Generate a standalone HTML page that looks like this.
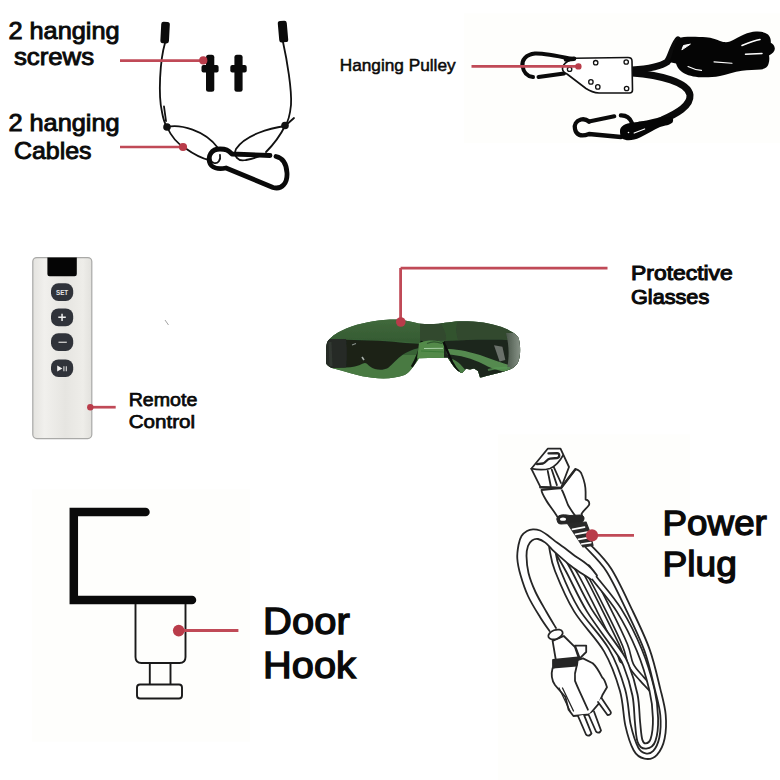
<!DOCTYPE html>
<html><head><meta charset="utf-8">
<style>
html,body{margin:0;padding:0;background:#fff;}
body{width:780px;height:780px;overflow:hidden;position:relative;}
svg{position:absolute;left:0;top:0;}
text{font-family:"Liberation Sans",sans-serif;font-weight:bold;fill:#0a0a0a;}
</style></head><body>
<svg width="780" height="780" viewBox="0 0 780 780">
<defs>
<linearGradient id="rem" x1="0" x2="1" y1="0" y2="0">
<stop offset="0" stop-color="#e4e3df"/><stop offset="0.2" stop-color="#f1f0ed"/><stop offset="0.55" stop-color="#e6e5e1"/><stop offset="0.85" stop-color="#eeede9"/><stop offset="1" stop-color="#e2e1dd"/>
</linearGradient>
</defs>

<!-- faint backgrounds -->
<rect x="32" y="489.5" width="218" height="252" fill="#fefefc"/>
<rect x="464" y="13.5" width="316" height="129.5" fill="#fefefc"/>
<rect x="498" y="434.5" width="192" height="345.5" fill="#fefefc"/>

<!-- ============ TEXT ============ -->
<text x="8.4" y="38.75" font-size="23.6" textLength="111.2" lengthAdjust="spacingAndGlyphs" style="font-weight:normal;stroke:#0a0a0a;stroke-width:0.9">2 hanging</text>
<text x="13.9" y="65.35" font-size="23.6" textLength="80.2" lengthAdjust="spacingAndGlyphs" style="font-weight:normal;stroke:#0a0a0a;stroke-width:0.9">screws</text>
<text x="8.4" y="131.25" font-size="23.6" textLength="111.2" lengthAdjust="spacingAndGlyphs" style="font-weight:normal;stroke:#0a0a0a;stroke-width:0.9">2 hanging</text>
<text x="13.9" y="158.75" font-size="23.6" textLength="77.7" lengthAdjust="spacingAndGlyphs" style="font-weight:normal;stroke:#0a0a0a;stroke-width:0.9">Cables</text>
<text x="339.7" y="71.20" font-size="16.6" textLength="115.9" lengthAdjust="spacingAndGlyphs" style="font-weight:normal;stroke:#0a0a0a;stroke-width:0.5">Hanging Pulley</text>
<text x="631.0" y="279.50" font-size="21.0" textLength="101.8" lengthAdjust="spacingAndGlyphs" style="font-weight:normal;stroke:#0a0a0a;stroke-width:1.05">Protective</text>
<text x="631.0" y="303.70" font-size="21.0" textLength="78.2" lengthAdjust="spacingAndGlyphs" style="font-weight:normal;stroke:#0a0a0a;stroke-width:1.05">Glasses</text>
<text x="128.7" y="406.15" font-size="18.9" textLength="68.7" lengthAdjust="spacingAndGlyphs" style="font-weight:normal;stroke:#0a0a0a;stroke-width:0.75">Remote</text>
<text x="128.7" y="428.25" font-size="18.9" textLength="66.4" lengthAdjust="spacingAndGlyphs" style="font-weight:normal;stroke:#0a0a0a;stroke-width:0.75">Control</text>
<text x="263.1" y="634.02" font-size="37.2" textLength="86.6" lengthAdjust="spacingAndGlyphs" style="font-weight:normal;stroke:#0a0a0a;stroke-width:1.35">Door</text>
<text x="263.1" y="678.12" font-size="37.2" textLength="92.8" lengthAdjust="spacingAndGlyphs" style="font-weight:normal;stroke:#0a0a0a;stroke-width:1.35">Hook</text>
<text x="662.5" y="535.05" font-size="35.0" textLength="104.4" lengthAdjust="spacingAndGlyphs" style="font-weight:normal;stroke:#0a0a0a;stroke-width:1.3">Power</text>
<text x="662.5" y="575.85" font-size="35.0" textLength="74.4" lengthAdjust="spacingAndGlyphs" style="font-weight:normal;stroke:#0a0a0a;stroke-width:1.3">Plug</text>

<!-- ============ CABLES (top-left) ============ -->
<g fill="none" stroke="#111" stroke-width="1.8" stroke-linecap="round">
<path d="M165,43 C160,60 158,95 162,112 C163,118 165,124 167,127"/>
<path d="M164,106.5 L166,121"/>
<path d="M213,152 C209,156 210,162 214,163 C218,164 221,160 220,155"/>
<path d="M283,42 C287,60 292,90 291,105 C290,115 288,122 285,126"/>
<path d="M285,126 L294,118"/>
<path d="M167,127 C180,124 205,130 218,148"/>
<path d="M167,127 C172,138 178,144 185,148 C192,153 200,158 209,160"/>
<path d="M285,126 C270,128 245,135 236,149 C233,156 238,162 246,160 C252,159 258,157 263,155"/>
<path d="M285,126 C280,136 272,146 266,152"/>
</g>
<circle cx="167" cy="127" r="3.8" fill="#111"/>
<circle cx="285" cy="125.5" r="3.8" fill="#111"/>
<rect x="160.8" y="21.8" width="8.6" height="21.5" rx="2.5" fill="#0a0a0a" transform="rotate(3 165 32.5)"/>
<rect x="278.5" y="20.8" width="9" height="21.5" rx="2.5" fill="#0a0a0a" transform="rotate(-5 283 31.5)"/>
<!-- screws -->
<g fill="#0a0a0a">
<rect x="206" y="54.7" width="8.3" height="37" rx="2.5"/>
<rect x="201.5" y="65" width="17.1" height="7.6" rx="2"/>
<rect x="234.4" y="54.7" width="8.2" height="37" rx="2.5"/>
<rect x="230.3" y="65" width="16.4" height="7.6" rx="2"/>
</g>
<!-- carabiner -->
<path d="M270,155.5 L232,154 C228,150 226,149 220,149 C211,149 208,156 209.5,162 C211,168 218,169.5 226,168 L273,187.5 C282,190 287.5,183 287,173 C286.5,164 283,158 276,156.5" fill="none" stroke="#0a0a0a" stroke-width="4.8" stroke-linecap="round" stroke-linejoin="round"/>

<!-- ============ PULLEY ============ -->
<g fill="none" stroke="#0a0a0a" stroke-linecap="round" stroke-linejoin="round">
<path d="M575,59.5 C565,57.5 545,53 535,53.5 C526,54.5 521.5,60 522.5,66 C523.5,72 527,76.5 533,77" stroke-width="4"/>
<path d="M538.5,77 L564,73.5" stroke-width="4"/>
<path d="M632,70 C645,69 660,67 667,62 C671,58 672,48 678,40" stroke-width="7"/>
<path d="M632,73 C660,75 688,82 690,95 C691,106 676,114 662,120 C654,123 646,124 640,125" stroke-width="7"/>
<!-- bottom carabiner -->
<path d="M589,121.5 L614.3,116.3" stroke-width="4.1"/>
<path d="M620.8,115.4 C626,115.2 630,118 632,123" stroke-width="4.1"/>
<path d="M589,121.5 C586,119 583,119 581,119.5 C576,121 574,125 575,129 C576,135 581,137 589,134 L621,137" stroke-width="4.3"/>

</g>
<path d="M620,131 C620,126 625,123.5 633,122.5 L651,120.5 C658,119 664,117 670,116.8 C673,117 674,120 672.5,122.5 C670,125 665,125.5 660,127 C654,129.5 647,134 640,137.5 C633,140.8 626,141.2 622,138.5 C620.3,136.5 620,133.5 620,131 Z" fill="#050505"/>
<path d="M634.2,133 L644.6,129" stroke="#fff" stroke-width="1.3" stroke-linecap="round"/>
<circle cx="628.5" cy="132.5" r="0.8" fill="#fff"/>
<path d="M562.5,69 C562.5,66 565,63 567.5,61.5 L574,58.3 L628,57.5 Q632,57.5 632,61 L632.5,90 Q632.5,93 629.5,93 L599,93 Q592,92.5 586,88.5 L567,74 C564,72.5 562.5,71 562.5,69 Z" fill="#fff" stroke="#111" stroke-width="1.6" stroke-linejoin="round"/>
<path d="M566,59.5 L574,58.8" stroke="#0a0a0a" stroke-width="4.6" stroke-linecap="round"/>
<g fill="none" stroke="#111" stroke-width="1.3">
<circle cx="569.6" cy="69.2" r="2.2"/><circle cx="595.7" cy="62.7" r="2.2"/><circle cx="626.2" cy="62" r="2.2"/>
<circle cx="590.9" cy="81.9" r="2.2"/><circle cx="597.8" cy="86.9" r="2.2"/><circle cx="626.6" cy="88.5" r="2.2"/>
</g>
<!-- coil -->
<path d="M669,62 C672,58 673,50 675.5,43 C677,39 680,37 684,37 C692,36.5 700,37 706,37.3 C712,37.8 716,39.5 720,41 C724,42.5 727,42.5 730,41.5 C735,39.5 740,36 744,34.5 C748,33 752,31.8 756,31.6 C761,31.4 765,32 768,34.5 C770.5,37 771,40 770.8,42.7 C773,44 775,46 774.8,49 C774.6,51.5 772.5,53.5 769,55.5 C769.5,58 769.5,61 768.5,64 C767.5,67 765,69 761,69.5 C755,70 748,70 742,70.8 C734,72 727,74.5 720,76 C713,77.3 707,77.5 701,77.3 C694,77 687,75.5 682,72 C678.5,69.5 677,66.5 676,63.5 Z" fill="#050505"/>
<g fill="none" stroke="#fff" stroke-linecap="round">
<path d="M682,49.5 L683.5,45.5 L690,44.2 Z" fill="#fff" stroke-width="1"/>
<path d="M742,45.5 C748,43 754,40.5 760,39.5" stroke-width="1.6"/>
<path d="M745.5,54.3 L762,53.5" stroke-width="1.5"/>
<path d="M714,61.9 L732,63.2" stroke-width="1.1"/>
<path d="M688,66.5 C692,68.5 697,70 701.5,70.4" stroke-width="1.1"/>
</g>
<!-- ============ REMOTE ============ -->
<rect x="32.8" y="257.6" width="59" height="181" rx="4" fill="url(#rem)" stroke="#a9a9a7" stroke-width="1.2"/>
<path d="M47.4,257.6 H76.8 V274 Q76.8,276.2 74.6,276.2 H49.6 Q47.4,276.2 47.4,274 Z" fill="#050505"/>
<g fill="#30333a">
<rect x="51" y="283.3" width="22.2" height="17.7" rx="7.5"/>
<rect x="51" y="308.4" width="22.2" height="17.9" rx="7.5"/>
<rect x="51" y="333.3" width="22.2" height="17.6" rx="7.5"/>
<rect x="51" y="359.4" width="22.2" height="17.6" rx="7.5"/>
</g>
<text x="56" y="294.6" font-size="6.8" textLength="12.2" lengthAdjust="spacingAndGlyphs" style="fill:#e6e6e6">SET</text>
<path d="M58.3,317.3 H65.8 M62.05,313.7 V320.9" stroke="#eee" stroke-width="1.5"/>
<path d="M58.5,342.3 H66.8" stroke="#c4c4c4" stroke-width="1.4"/>
<path d="M57.2,365.4 L57.2,371.4 L62.4,368.4 Z" fill="#f2f2f2"/>
<path d="M63.9,366.3 V371.3 M66.3,366.3 V371.3" stroke="#ddd" stroke-width="1.1"/>
<path d="M165,320 L168.5,325" stroke="#999" stroke-width="0.9"/>

<!-- ============ GLASSES ============ -->
<clipPath id="gcl"><path d="M326.3,352 C326,345 327,342 328.5,340.3 C333,335 337,333 341,331 C348,327 355,325 362.3,323.4 C370,321.5 377,320.2 383.5,319.9 C390,319.6 394,319.5 397.6,319.6 C406,320.5 412,322 418.7,323.4 C423,324 428,324.2 434,324.1 C440,323.5 444,322.8 448.2,322.4 C453,321.8 458,321.3 462.3,321.3 C470,321.3 477,321.7 483.5,322.4 C490,323.5 496,325 501.8,326.9 C506,328.5 510,330.5 513,332.6 C516,334.5 518,336.5 518.7,338.2 C520,343 520.3,348 520.1,352.3 C519.8,357 519,360.5 517.3,363.6 C515.5,366.5 513,368 510.3,369.2 C504,371.5 497,373.5 490.5,374.9 C486,376 482.5,377 480,377.5 L478,371 L474,368.5 L470,369.5 L466,368.8 L462,373 C460,372.5 458,371 456,369 C453,366 450,361 447.5,357.5 L419,358.3 C416.5,362.5 414,366 411,369.5 C409,372 407,373.8 404.6,374.9 C398,377 391,378.3 383.5,378.4 C376,378.3 369,377.6 362.3,376.3 C355,374.5 348,372.5 341.2,370.6 C337,369.5 334,368.8 331.3,367.8 C328,366 326.5,364.5 326.3,363.6 C326,360 326,356 326.3,352 Z"/></clipPath>
<linearGradient id="gtop" x1="0" y1="0" x2="0" y2="1"><stop offset="0" stop-color="#436c3d"/><stop offset="1" stop-color="#345a32"/></linearGradient>
<linearGradient id="gedge" x1="0" y1="0" x2="1" y2="0"><stop offset="0" stop-color="#4a564a"/><stop offset="1" stop-color="#8a968a"/></linearGradient>
<filter id="gbl" x="-5%" y="-10%" width="110%" height="120%"><feGaussianBlur stdDeviation="0.6"/></filter>
<g filter="url(#gbl)"><g clip-path="url(#gcl)">
<rect x="320" y="315" width="205" height="70" fill="#386236"/>
<path d="M320,315 H420 V343 C400,341 370,339 320,340 Z" fill="url(#gtop)"/>
<path d="M420,315 H525 V341 C500,340 470,339.5 445,340.5 L420,342 Z" fill="#30492f"/>
<path d="M440,322 C445,330 447,336 446,341 L458,340 C456,333 455,328 458,321 Z" fill="#33582f" opacity="0.7"/>
<!-- light bottoms -->
<rect x="320" y="355" width="205" height="30" fill="#487a42"/>
<!-- left lens dark band -->
<path d="M320,340 C350,339.5 380,340.5 400,342.5 C410,343.5 418,344 423,343.5 L421,348 C416,348 410,350.5 403,354.5 C397,358.5 393,364 388,368 C382,371 375,370 370,366.5 C367,364 366,362 363,363.5 C358,366 352,367.5 346,367.5 L320,368 Z" fill="#1a2319"/>
<path d="M320,339 H346 C347,348 347,358 346,367.5 L320,368 Z" fill="#262b26"/>
<path d="M330,342 L331,366" stroke="#3a403a" stroke-width="3" opacity="0.6"/>
<path d="M352,345 L356,343.5" stroke="#8a908a" stroke-width="1.2"/>
<path d="M362,357 L364,360" stroke="#a8aea8" stroke-width="1.6"/>
<path d="M422,341 C420,350 417,358 412,367" stroke="#0e120e" stroke-width="2.6" fill="none"/>
<!-- nose area -->
<path d="M419,343 C424,341 428,340.5 432,340.5 C437,340.5 441,341.5 444,344 L447,352 L447,358.5 L417,358.5 Z" fill="#528a4a"/>
<path d="M427,343.5 C431,341.5 437,341.5 442,343.5" stroke="#2f552d" stroke-width="1.2" fill="none"/>
<path d="M424,348.5 L443,348.3" stroke="#a8d0a4" stroke-width="1" fill="none"/>
<path d="M421,351 L444,352" stroke="#3c7a37" stroke-width="1" fill="none"/>
<!-- right lens -->
<path d="M444,341 C470,339.5 495,339.5 510,340 L521,341 V380 H444 Z" fill="#1d251d"/>
<path d="M446,349 C455,349 465,350.5 480,355 C490,358.5 500,362.5 512,366 L514,373 C505,372 495,370.5 484,364.5 C472,358.5 460,355 447,354.5 Z" fill="#548a4f"/>
<path d="M449,358 C455,359 461,364 466,371 L468,380 L445,380 Z" fill="#4b7f45"/>
<path d="M443.5,342 C446,348 449,355 452,362 C454,366 456,369 459,372" stroke="#0d110d" stroke-width="2.4" fill="none"/>
<path d="M494,345.3 L502.4,346.7 L505.3,360 L499.6,361.5 Z" fill="#6b716b"/>
<path d="M506,333 C509,345 509.5,356 507,369 L521,369 L521,333 Z" fill="url(#gedge)"/>
<path d="M488,370 C495,368 502,367.5 510,368" stroke="#5a9a55" stroke-width="2" fill="none" opacity="0.7"/>
</g></g>
<path d="M400.6,268.1 V322 M400.6,268.1 H607.5" fill="none" stroke="#c04a57" stroke-width="2.8" stroke-linejoin="round"/>
<circle cx="400.8" cy="322" r="4.8" fill="#b93c4a"/>

<!-- ============ DOOR HOOK ============ -->
<g fill="none" stroke="#0a0a0a" stroke-linecap="round" stroke-linejoin="miter">
<path d="M145.5,512 H73.8 V600 H192" stroke-width="8.5"/>
</g>
<g fill="none" stroke="#1a1a1a" stroke-width="1.9" stroke-linejoin="round">
<path d="M135.5,604 V657 Q135.5,663 141.5,663 H179.5 Q185.5,663 185.5,657 V604"/>
<path d="M149.8,663.5 V684.5 M170.5,663.5 V684.5"/>
<rect x="137" y="684.5" width="45" height="14" rx="3"/>
</g>

<!-- ============ POWER PLUG ============ -->
<g fill="none" stroke-linecap="round" stroke-linejoin="round">
<path d="M563.0,551.0 C565.6,554.2 572.5,560.2 578.5,570.0 C584.5,579.8 592.9,597.3 599.3,610.0 C605.7,622.7 613.2,637.7 617.0,646.0 C620.8,654.3 621.2,657.7 622.0,660.0" stroke="#262626" stroke-width="6.8"/><path d="M563.0,551.0 C565.6,554.2 572.5,560.2 578.5,570.0 C584.5,579.8 592.9,597.3 599.3,610.0 C605.7,622.7 613.2,637.7 617.0,646.0 C620.8,654.3 621.2,657.7 622.0,660.0" stroke="#fff" stroke-width="3.4"/>
<path d="M576.0,561.0 C577.9,562.5 581.8,561.8 587.2,570.0 C592.6,578.2 602.1,597.5 608.4,610.0 C614.7,622.5 621.2,635.8 625.0,645.0 C628.8,654.2 628.2,659.3 631.0,665.0 C633.8,670.7 638.5,674.8 642.0,679.0 C645.5,683.2 649.0,686.2 652.0,690.0 C655.0,693.8 658.7,700.0 660.0,702.0" stroke="#262626" stroke-width="6.8"/><path d="M576.0,561.0 C577.9,562.5 581.8,561.8 587.2,570.0 C592.6,578.2 602.1,597.5 608.4,610.0 C614.7,622.5 621.2,635.8 625.0,645.0 C628.8,654.2 628.2,659.3 631.0,665.0 C633.8,670.7 638.5,674.8 642.0,679.0 C645.5,683.2 649.0,686.2 652.0,690.0 C655.0,693.8 658.7,700.0 660.0,702.0" stroke="#fff" stroke-width="3.4"/>
<path d="M588.0,568.0 C589.0,569.6 588.9,570.5 594.0,577.5 C599.1,584.5 611.4,597.9 618.9,610.0 C626.4,622.1 633.8,636.7 639.3,650.0 C644.8,663.3 649.3,678.7 652.0,690.0 C654.7,701.3 655.3,709.7 655.5,718.0 C655.7,726.3 654.6,735.3 653.0,740.0 C651.4,744.7 648.2,745.8 646.0,746.0 C643.8,746.2 641.4,745.0 640.0,741.0 C638.6,737.0 638.3,729.7 637.5,722.0 C636.7,714.3 636.9,704.5 635.0,695.0 C633.1,685.5 629.0,672.5 626.0,665.0 C623.0,657.5 623.4,659.2 617.2,650.0 C611.1,640.8 597.3,623.3 589.1,610.0 C580.9,596.7 573.6,579.8 568.2,570.0 C562.9,560.2 558.9,554.2 557.0,551.0" stroke="#262626" stroke-width="7.0"/><path d="M588.0,568.0 C589.0,569.6 588.9,570.5 594.0,577.5 C599.1,584.5 611.4,597.9 618.9,610.0 C626.4,622.1 633.8,636.7 639.3,650.0 C644.8,663.3 649.3,678.7 652.0,690.0 C654.7,701.3 655.3,709.7 655.5,718.0 C655.7,726.3 654.6,735.3 653.0,740.0 C651.4,744.7 648.2,745.8 646.0,746.0 C643.8,746.2 641.4,745.0 640.0,741.0 C638.6,737.0 638.3,729.7 637.5,722.0 C636.7,714.3 636.9,704.5 635.0,695.0 C633.1,685.5 629.0,672.5 626.0,665.0 C623.0,657.5 623.4,659.2 617.2,650.0 C611.1,640.8 597.3,623.3 589.1,610.0 C580.9,596.7 573.6,579.8 568.2,570.0 C562.9,560.2 558.9,554.2 557.0,551.0" stroke="#fff" stroke-width="3.4"/>
<path d="M588.0,546.0 C591.5,550.0 601.9,559.3 608.8,570.0 C615.7,580.7 622.8,596.7 629.2,610.0 C635.6,623.3 642.2,636.7 647.0,650.0 C651.8,663.3 655.1,679.2 657.8,690.0 C660.5,700.8 662.3,707.0 663.0,715.0 C663.7,723.0 663.3,731.7 662.0,738.0 C660.7,744.3 657.8,750.0 655.0,753.0 C652.2,756.0 648.2,756.7 645.0,756.0 C641.8,755.3 638.8,754.2 636.0,749.0 C633.2,743.8 630.2,734.8 628.0,725.0 C625.8,715.2 626.1,702.5 622.5,690.0 C618.9,677.5 614.1,663.3 606.4,650.0 C598.7,636.7 584.5,623.3 576.4,610.0 C568.2,596.7 561.6,580.3 557.5,570.0 C553.4,559.7 552.9,551.7 552.0,548.0" stroke="#262626" stroke-width="7.2"/><path d="M588.0,546.0 C591.5,550.0 601.9,559.3 608.8,570.0 C615.7,580.7 622.8,596.7 629.2,610.0 C635.6,623.3 642.2,636.7 647.0,650.0 C651.8,663.3 655.1,679.2 657.8,690.0 C660.5,700.8 662.3,707.0 663.0,715.0 C663.7,723.0 663.3,731.7 662.0,738.0 C660.7,744.3 657.8,750.0 655.0,753.0 C652.2,756.0 648.2,756.7 645.0,756.0 C641.8,755.3 638.8,754.2 636.0,749.0 C633.2,743.8 630.2,734.8 628.0,725.0 C625.8,715.2 626.1,702.5 622.5,690.0 C618.9,677.5 614.1,663.3 606.4,650.0 C598.7,636.7 584.5,623.3 576.4,610.0 C568.2,596.7 561.6,580.3 557.5,570.0 C553.4,559.7 552.9,551.7 552.0,548.0" stroke="#fff" stroke-width="3.6"/>
<path d="M549.5,631.0 C547.9,628.7 543.6,622.8 540.0,617.0 C536.4,611.2 531.2,603.0 528.0,596.0 C524.8,589.0 522.3,581.2 520.5,575.0 C518.7,568.8 517.6,563.5 517.3,558.5 C517.0,553.5 517.8,548.8 518.5,545.0 C519.2,541.2 520.1,538.3 521.5,536.0 C522.9,533.7 525.1,532.1 527.0,531.0 C528.9,529.9 530.8,529.4 533.0,529.3 C535.2,529.2 537.5,529.5 540.0,530.5 C542.5,531.5 545.2,533.5 548.0,535.5 C550.8,537.5 554.0,540.4 557.0,542.6 C560.0,544.9 563.0,546.8 566.0,549.0 C569.0,551.2 572.0,553.8 575.0,556.0 C578.0,558.2 581.3,560.0 584.0,562.0 C586.7,564.0 588.8,565.8 591.0,568.0 C593.2,570.2 596.0,574.2 597.0,575.5 L591.0,579.5 C590.0,578.8 587.2,576.9 585.0,575.5 C582.8,574.1 580.4,572.7 578.0,571.0 C575.6,569.3 573.2,567.7 570.4,565.5 C567.6,563.3 564.4,560.5 561.4,557.9 C558.4,555.3 555.1,552.3 552.4,549.8 C549.7,547.2 547.7,544.4 545.3,542.6 C542.9,540.8 540.2,539.4 538.0,539.0 C535.8,538.6 533.7,539.3 532.0,540.5 C530.3,541.7 528.9,543.4 528.0,546.0 C527.1,548.6 526.4,551.5 526.5,556.0 C526.6,560.5 527.0,567.0 528.5,573.0 C530.0,579.0 532.5,585.5 535.5,592.0 C538.5,598.5 543.1,606.0 546.5,612.0 C549.9,618.0 554.4,625.3 556.0,628.0 Z" fill="#fff" stroke="none"/>
<path d="M549.5,631.0 C547.9,628.7 543.6,622.8 540.0,617.0 C536.4,611.2 531.2,603.0 528.0,596.0 C524.8,589.0 522.3,581.2 520.5,575.0 C518.7,568.8 517.6,563.5 517.3,558.5 C517.0,553.5 517.8,548.8 518.5,545.0 C519.2,541.2 520.1,538.3 521.5,536.0 C522.9,533.7 525.1,532.1 527.0,531.0 C528.9,529.9 530.8,529.4 533.0,529.3 C535.2,529.2 537.5,529.5 540.0,530.5 C542.5,531.5 545.2,533.5 548.0,535.5 C550.8,537.5 554.0,540.4 557.0,542.6 C560.0,544.9 563.0,546.8 566.0,549.0 C569.0,551.2 572.0,553.8 575.0,556.0 C578.0,558.2 581.3,560.0 584.0,562.0 C586.7,564.0 588.8,565.8 591.0,568.0 C593.2,570.2 596.0,574.2 597.0,575.5" stroke="#262626" stroke-width="1.8"/>
<path d="M556.0,628.0 C554.4,625.3 549.9,618.0 546.5,612.0 C543.1,606.0 538.5,598.5 535.5,592.0 C532.5,585.5 530.0,579.0 528.5,573.0 C527.0,567.0 526.6,560.5 526.5,556.0 C526.4,551.5 527.1,548.6 528.0,546.0 C528.9,543.4 530.3,541.7 532.0,540.5 C533.7,539.3 535.8,538.6 538.0,539.0 C540.2,539.4 542.9,540.8 545.3,542.6 C547.7,544.4 549.7,547.2 552.4,549.8 C555.1,552.3 558.4,555.3 561.4,557.9 C564.4,560.5 567.6,563.3 570.4,565.5 C573.2,567.7 575.6,569.3 578.0,571.0 C580.4,572.7 582.8,574.1 585.0,575.5 C587.2,576.9 590.0,578.8 591.0,579.5" stroke="#262626" stroke-width="1.8"/>

</g>
<!-- connector -->
<g fill="#fff" stroke="#262626" stroke-width="1.8" stroke-linejoin="round" stroke-linecap="round">
<!-- boot -->
<path d="M561,488 L575.4,469.2 C579,470 581,472 582,475 C584,480 585.6,486 585.6,492 L585.6,499.5 C588,500 590,502 589,505 C587,508 583,511 581.5,513.8 L583,519 L559,520 C556,513 550,507 546,500 C543,495 541.5,492 541.5,490 Z"/>
<path d="M562,490.3 C564,494 566,500 568,505 C571,510 574,515 577.4,518"/>
<path d="M561,488 L575.4,469.2" stroke-width="2.4"/>
<!-- head -->
<path d="M531.3,468.7 L547.7,448.7 L560.5,448.7 L569,467 L561,488 L540.5,487.2 Z"/>
<path d="M531.3,468.7 C538,470 545,470 550,468.5 C556,466 560,461 563,455.4"/>
<path d="M540.5,487.2 L561,488" stroke-width="2.6"/>
<path d="M547.7,470.8 L550.8,486.2 M551.8,469.7 L556.9,485.1 M553.8,467.2 L561,483"/>
<path d="M548.5,453.4 L557,453.2 C560,453.4 560,457.6 557,458 L550,458.6 C547,459 546,462.5 543,463.5 L537,464.2" stroke-width="2.3" fill="none"/>
</g>
<!-- collar + ribbed strain relief -->
<g fill="none" stroke="#262626" stroke-linejoin="round" stroke-linecap="round">
<path d="M557,519 C557,515 562,514 570,515.5 L580,515 C584,515 585,518 583,521.5 C581,524 576,524.5 570,523.5 L561,524 C558,524 557,522 557,519 Z" fill="#262626" stroke-width="1"/>
<ellipse cx="563" cy="519.2" rx="3" ry="1.6" fill="#fff" stroke="none"/>
<path d="M567.5,523.5 L586,522 L589.5,531 L593,545.5 L583,547 Z" fill="#2a2a2a" stroke="#2a2a2a" stroke-width="1.2"/>
<path d="M572.5,529.3 L584.5,527.2 M575.5,534.3 L587.5,532.2 M578.5,539.3 L589.8,537.4 M581.5,544 L590.8,542.6" stroke="#fff" stroke-width="1.7"/>
</g>
<!-- plug -->
<g fill="#fff" stroke="#262626" stroke-width="1.8" stroke-linejoin="round" stroke-linecap="round">
<path d="M552.6,640.8 L556,661 L579,659 L575,647.2 L563.8,636 Z"/>
<ellipse cx="555.5" cy="634.5" rx="7.5" ry="4.5" transform="rotate(-20 555.5 634.5)"/>
<path d="M575,645.6 L586.2,645.6 L586.2,652 L579.8,658.4 Z"/>
<path d="M552.6,668 C551,674 551.5,680 555,685 C559,690 563,694 565.4,697 L568.6,709.7 L573.4,716 L589.5,714.5 L599,703.3 L602.3,695.3 L607,687.3 C605,681 603,678 602.3,677.7 C599,671 596,666 592.7,663.2 L583,658.4 Z"/>
<path d="M576.6,666.4 C575,671 574.5,676 575,680.9 C577,686 579,690 581.4,695.3 L587.9,709.7"/>
<path d="M559,688 L570.5,712 M562.5,688 L573.5,711" stroke-width="1.3"/>
<path d="M553,660 L578,657.5 L577,665.5 L553,667.5 Z" fill="#262626"/>
<path d="M601.5,698 L610.5,711.5 C611.5,713 610.5,714.5 609,714.8 L607.5,715 L598,702" />
<path d="M578,716 L586,734.5 C587,736 589,736 590,735 L591.5,733.5 L584,714.8"/>
<path d="M588.5,714.5 L596,731.5 C597,733 599,733 600,732 L601,730.5 L594,711.5"/>
</g>
<!-- ============ RED CALLOUTS ============ -->
<g stroke="#c04a57" stroke-width="2.7" fill="none">
<path d="M120,60.6 H203"/>
<path d="M120,147 H183"/>
<path d="M471.5,66.4 H578"/>
<path d="M90.3,407.2 H115.7"/>
<path d="M178.5,630.5 H238.4" stroke-width="2.9"/>
<path d="M592,535.4 H634" stroke-width="2.9"/>
</g>
<g fill="#b93c4a">
<circle cx="203.3" cy="60.4" r="4.1"/>
<circle cx="183" cy="147" r="4.1"/>
<circle cx="578.4" cy="66.4" r="3.2"/>
<circle cx="90.3" cy="407.2" r="3.2"/>
<circle cx="178.7" cy="630.6" r="5.8"/>
<circle cx="592" cy="535.4" r="6.1"/>
</g>
</svg>
</body></html>
